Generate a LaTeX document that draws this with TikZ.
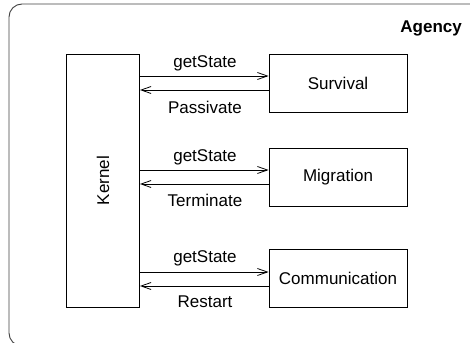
\documentclass[tikz,border=0pt]{standalone}
\usepackage{fontspec}
\setmainfont{Liberation Sans}
\usetikzlibrary{arrows.meta}
\begin{document}
\begin{tikzpicture}[x=1pt,y=-1pt,
  box/.style={draw=black,line width=0.8pt,inner sep=0pt,font=\fontsize{17}{20}\selectfont},
  lbl/.style={font=\fontsize{17}{20}\selectfont,inner sep=0pt},
  msg/.style={line width=0.8pt,-{Straight Barb[length=10pt,width=7pt,line width=0.8pt]}}]
\clip (0,0) rectangle (470,342);
\useasboundingbox (0,0) rectangle (470,342);
\draw[line width=0.9pt,draw=black!75,rounded corners=13pt] (9,4) rectangle (490,346);
\node[anchor=east,font=\fontsize{17}{20}\selectfont\bfseries,inner sep=0pt] (agency) at (462,28) {Agency};
\node[box,minimum width=73pt,minimum height=253pt] (kernel) at (103,180.5) {\rotatebox{90}{Kernel}};
\node[box,minimum width=138pt,minimum height=58pt] (surv) at (338,83) {Survival};
\node[box,minimum width=138pt,minimum height=58pt] (migr) at (338,177) {Migration};
\node[box,minimum width=138pt,minimum height=58pt] (comm) at (338,278) {Communication};
\foreach \n/\a/\b/\ta/\tb/\la/\lb in {surv/76/90/63/107/getState/Passivate,migr/170/184/157/200/getState/Terminate,comm/272/286/258/302/getState/Restart}{
  \coordinate (k1) at (0,\a);
  \coordinate (k2) at (0,\b);
  \draw[msg] (k1 -| kernel.east) -- (k1 -| \n.west);
  \draw[msg] (k2 -| \n.west) -- (k2 -| kernel.east);
  \node[lbl] (\n-up) at (205,\ta) {\la};
  \node[lbl] (\n-down) at (205,\tb) {\lb};
}
\end{tikzpicture}
\end{document}
